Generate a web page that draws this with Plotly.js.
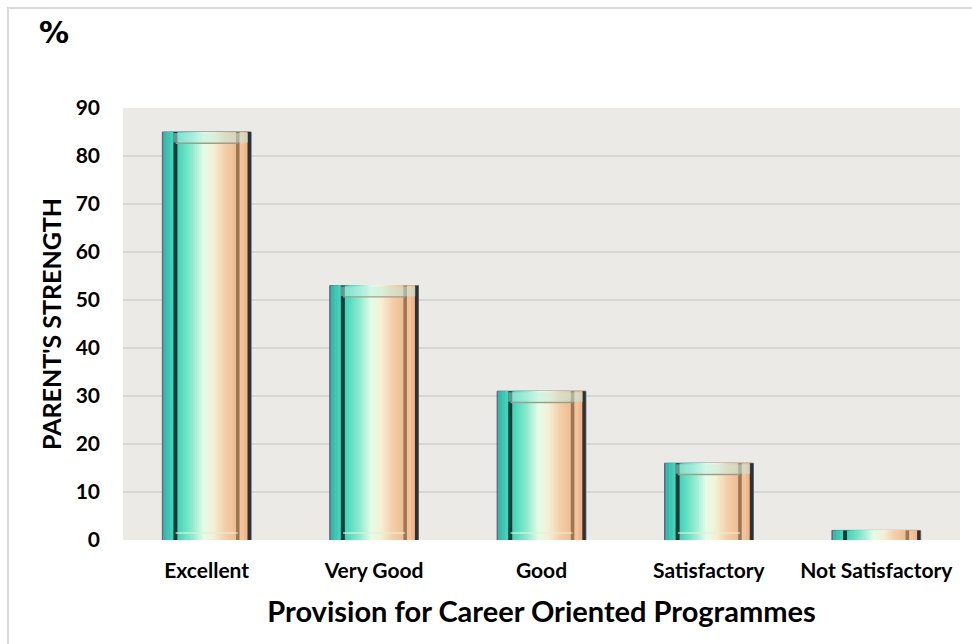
<!DOCTYPE html>
<html>
<head>
<meta charset="utf-8">
<script src="https://cdn.plot.ly/plotly-3.0.1.min.js"></script>
<style>
  html, body { margin: 0; padding: 0; background: #ffffff; }
  #chart { width: 972px; height: 644px; }
  #frame { position: absolute; left: 7px; top: 7px; width: 980px; height: 660px;
           border-left: 2px solid #dadada; border-top: 2px solid #dadada; pointer-events: none; }
</style>
</head>
<body>
<div id="chart"></div>
<div id="frame"></div>
<script>
// ---- data ----
var categories = ["Excellent", "Very Good", "Good", "Satisfactory", "Not Satisfactory"];
var values = [85, 53, 31, 16, 2];
var yTickValues = [0, 10, 20, 30, 40, 50, 60, 70, 80, 90];
var xTitle = "Provision for Career Oriented Programmes";
var yTitle = "PARENT'S STRENGTH";
var unitLabel = "%";

// ---- styling: bar built from vertical colour slices ----
var W = 0.53; // bar width as fraction of category
function hex(c){ return [parseInt(c.substr(1,2),16),parseInt(c.substr(3,2),16),parseInt(c.substr(5,2),16)]; }
function mix(a,b,t){ var A=hex(a),B=hex(b); return 'rgb('+A.map(function(v,i){return Math.round(v+(B[i]-v)*t);}).join(',')+')'; }
function gradAt(stops, f){
  for (var i=0;i<stops.length-1;i++){
    if (f>=stops[i][0] && f<=stops[i+1][0]){
      var t=(f-stops[i][0])/(stops[i+1][0]-stops[i][0]);
      return mix(stops[i][1],stops[i+1][1],t);
    }
  }
  return stops[stops.length-1][1];
}
// each slice: [start fraction, colour]; every slice is drawn from its start to the bar's right edge
var slices = [];
var outerL = [[0,'#2fb7a6'],[1,'#4cd6be']];
for (var k=0;k<3;k++){ slices.push([0.01+k*0.04, gradAt(outerL,(k+0.5)/3)]); }
slices.push([0.125,'#0e3c37']);
var inner = [[0,'#3fd4b6'],[0.25,'#8fe9cf'],[0.45,'#e6fbe6'],[0.62,'#f7efd2'],[0.8,'#f5d0aa'],[1,'#eebd93']];
var n = 30, a0 = 0.17, a1 = 0.83;
for (var k=0;k<n;k++){
  slices.push([a0+(a1-a0)*k/n, gradAt(inner,(k+0.5)/n)]);
}
slices.push([0.83,'#9c7752']);
slices.push([0.87,'#f2c39c']);
slices.push([0.92,'#f1b68b']);
slices.push([0.96,'#2b3139']);

var traces = [];
traces.push({
  type:'bar', x:categories, y:values, width:W, offset:-W/2,
  marker:{color:'#4d6b84', line:{color:'#4d6b84', width:1}},
  hoverinfo:'skip', showlegend:false
});
slices.forEach(function(sl){
  var endF = sl[0] < 0.96 ? 0.995 : 1.0;
  traces.push({
    type:'bar', x:categories, y:values, width:(endF-sl[0])*W, offset:-W/2+sl[0]*W,
    marker:{color:sl[1], line:{width:0}},
    hoverinfo:'skip', showlegend:false
  });
});
// top bevel highlight and inner frame lines (derived from values)
var capBase = values.map(function(v){ return v>4 ? v-2.2 : null; });
var capLen = values.map(function(v){ return v>4 ? 2.0 : null; });
traces.push({
  type:'bar', x:categories, y:capLen, base:capBase, width:W*0.84, offset:-W/2+0.125*W,
  marker:{color:'rgba(190,240,230,0.5)', line:{width:0}}, hoverinfo:'skip', showlegend:false
});
var lineBase = values.map(function(v){ return v>4 ? v-2.5 : null; });
var lineLen = values.map(function(v){ return v>4 ? 0.3 : null; });
traces.push({
  type:'bar', x:categories, y:lineLen, base:lineBase, width:W*0.7, offset:-W/2+0.15*W,
  marker:{color:'#9aa08e', line:{width:0}}, hoverinfo:'skip', showlegend:false
});
var botBase = values.map(function(v){ return v>4 ? 1.3 : null; });
traces.push({
  type:'bar', x:categories, y:lineLen, base:botBase, width:W*0.7, offset:-W/2+0.15*W,
  marker:{color:'rgba(225,240,215,0.8)', line:{width:0}}, hoverinfo:'skip', showlegend:false
});

var fontFam = 'Lato, "Open Sans", "DejaVu Sans", sans-serif';
var layout = {
  width:972, height:644,
  margin:{l:123, r:12, t:108, b:104},
  paper_bgcolor:'rgba(0,0,0,0)',
  plot_bgcolor:'#ebeae7',
  barmode:'overlay',
  showlegend:false,
  xaxis:{
    type:'category', showgrid:false, zeroline:false, showline:false,
    ticks:'', ticklabelstandoff:16,
    tickfont:{family:fontFam, size:21, color:'#000000', weight:700},
    title:{text:xTitle, font:{family:fontFam, size:29, color:'#000000', weight:700}, standoff:20},
    fixedrange:true
  },
  yaxis:{
    range:[0,90], tickvals:yTickValues, showgrid:true, gridcolor:'#d6d6d6', gridwidth:2,
    zeroline:false, showline:false, ticks:'', ticklabelstandoff:22,
    tickfont:{family:fontFam, size:21, color:'#000000', weight:700},
    title:{text:yTitle, font:{family:fontFam, size:25, color:'#000000', weight:700}, standoff:6},
    fixedrange:true
  },
  annotations:[{
    text:unitLabel, xref:'paper', yref:'paper', x:-0.103, y:1.174, xanchor:'left', yanchor:'middle',
    showarrow:false, font:{family:'"DejaVu Sans", sans-serif', size:30, color:'#000000', weight:700}
  }]
};
Plotly.newPlot('chart', traces, layout, {displayModeBar:false, staticPlot:true});
</script>
</body>
</html>
